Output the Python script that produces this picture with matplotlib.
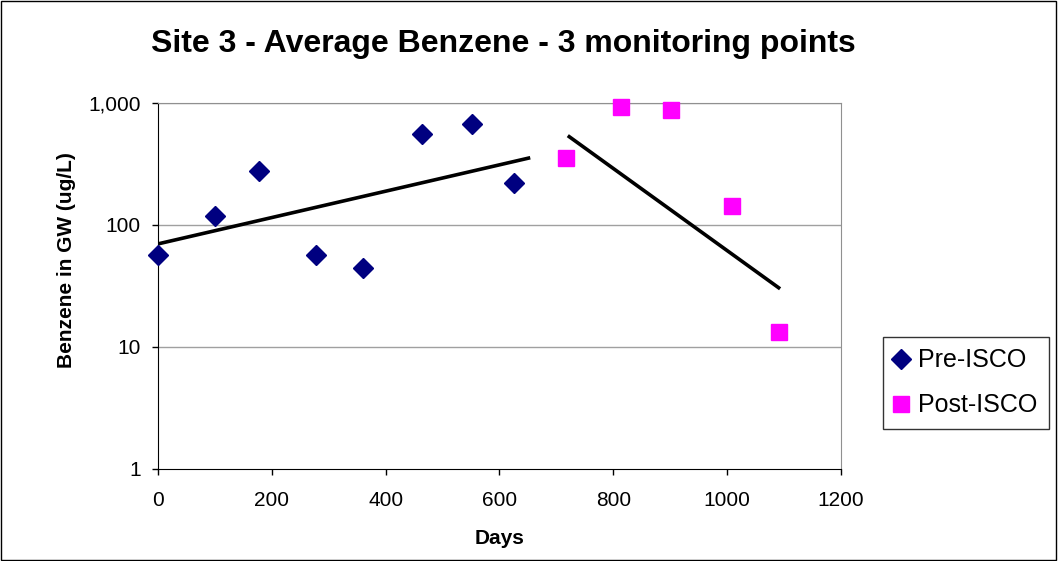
import matplotlib
matplotlib.use("Agg")
import matplotlib.pyplot as plt
from matplotlib.ticker import FixedLocator, FuncFormatter, NullLocator

plt.rcParams['font.family'] = ['Liberation Sans', 'DejaVu Sans']

# values
pre_days = [0, 100, 178, 277, 361, 463, 551, 626]
pre_benzene = [57, 119, 277, 57, 44, 557, 673, 221]
post_days = [717, 814, 902, 1008, 1091]
post_benzene = [352, 933, 877, 144, 13.2]

# trend line end points
pre_trend_days = [0, 654]
pre_trend_vals = [70, 356]
post_trend_days = [720, 1093]
post_trend_vals = [540, 30]

y_ticks = [1, 10, 100, 1000]
x_ticks = [0, 200, 400, 600, 800, 1000, 1200]

fig = plt.figure(figsize=(10.58, 5.61), dpi=100)
ax = fig.add_axes([158 / 1058, 92 / 561, 683 / 1058, 366 / 561])

ax.set_yscale('log')
ax.set_xlim(0, 1200)
ax.set_ylim(1, 1000)

for v in y_ticks[1:]:
    ax.axhline(v, color='#a0a0a0', lw=1, zorder=0)

ax.plot(pre_trend_days, pre_trend_vals, color='black', lw=2.6, solid_capstyle='butt', zorder=2)
ax.plot(post_trend_days, post_trend_vals, color='black', lw=2.6, solid_capstyle='butt', zorder=2)

ax.plot(pre_days, pre_benzene, 'D', color='#000080', markersize=10, ls='none',
        label='Pre-ISCO', clip_on=False, zorder=3)
ax.plot(post_days, post_benzene, 's', color='#ff00ff', markersize=12, ls='none',
        label='Post-ISCO', clip_on=False, zorder=3)

ax.yaxis.set_major_locator(FixedLocator(y_ticks))
ax.yaxis.set_minor_locator(NullLocator())
ax.yaxis.set_major_formatter(FuncFormatter(lambda v, p: '{:,.0f}'.format(v)))
ax.set_xticks(x_ticks)

ax.tick_params(direction='out', length=4.5, width=1, labelsize=15, color='black')
ax.tick_params(axis='x', pad=11)
ax.tick_params(axis='y', pad=8)
for side in ['top', 'right']:
    ax.spines[side].set_color('#909090')
for side in ['left', 'bottom']:
    ax.spines[side].set_color('black')

ax.set_xlabel('Days', fontsize=15, fontweight='bold', labelpad=14)
ax.set_ylabel('Benzene in GW (ug/L)', fontsize=15, fontweight='bold')
ax.yaxis.set_label_coords(-0.120, 0.571)

fig.suptitle('Site 3 - Average Benzene - 3 monitoring points', x=503 / 1058, y=1 - 44 / 561,
             va='center', fontsize=23, fontweight='bold')

leg = fig.legend(loc='upper left', bbox_to_anchor=(883 / 1058, 1 - 337 / 561),
                 fontsize=18, frameon=True, fancybox=False, handletextpad=0.45,
                 handlelength=0.5, borderpad=0.45, labelspacing=0.85, borderaxespad=0,
                 markerscale=1.0)
leg.get_frame().set_edgecolor('black')
leg.get_frame().set_linewidth(1)

# outer chart border
fig.patches.append(plt.Rectangle((0.001, 0.001), 0.997, 0.997, transform=fig.transFigure,
                                 fill=False, edgecolor='black', lw=1))

fig.savefig('out.png', dpi=100)
